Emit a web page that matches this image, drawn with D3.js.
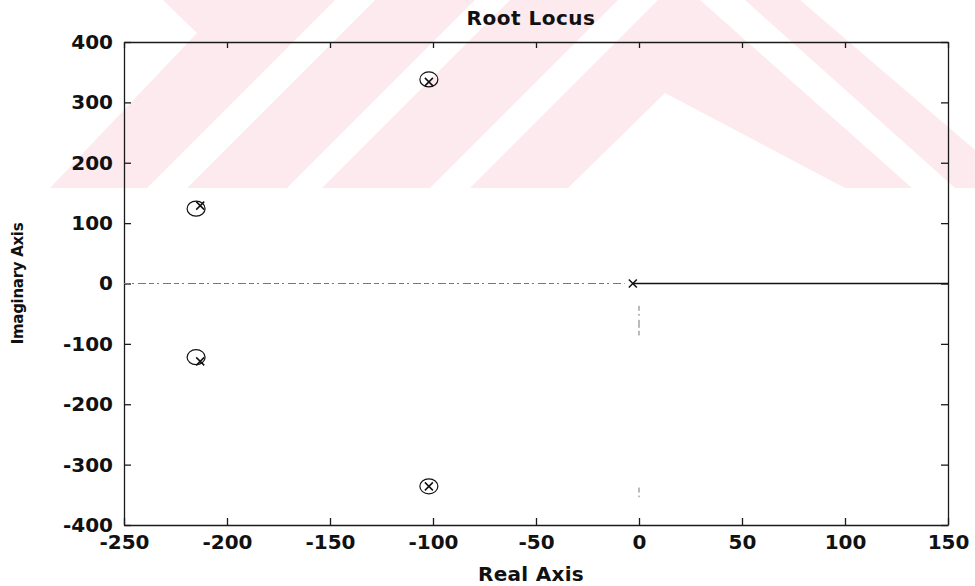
<!DOCTYPE html>
<html>
<head>
<meta charset="utf-8">
<script src="https://cdn.jsdelivr.net/npm/d3@7"></script>
<style>
  body { margin: 0; background: #fff; }
  svg { display: block; }
  text { font-family: "DejaVu Sans", Arial, sans-serif; font-weight: bold; fill: #111; }
</style>
</head>
<body>
<div id="chart"></div>
<script>
// axis setup
const xDomain = [-250, 150];
const yDomain = [-400, 400];
const xTicks = [-250, -200, -150, -100, -50, 0, 50, 100, 150];
const yTicks = [-400, -300, -200, -100, 0, 100, 200, 300, 400];

// open-loop poles (x) and zeros (o)
const polesRe = [-3, -213, -213, -102, -102];
const polesIm = [0, 129, -129, 334, -336];
const zerosRe = [-215, -215, -102, -102];
const zerosIm = [124, -122, 338, -336];

// locus branches
const branchSolid = [[-3, 0], [150, 0]];
const branchDotted = [
  [[-250, 0], [-7, 0]],
  [[0, -37], [0, -86]],
  [[0, -338], [0, -354]]
];

const width = 975, height = 586;
const margin = { top: 42, right: 27, bottom: 61, left: 124 };

const svg = d3.select('#chart')
  .append('svg')
    .attr('width', width)
    .attr('height', height);

// faint scanned-page watermark in the top band
const wm = svg.append('g').attr('class', 'watermark');
wm.append('rect').attr('x', 0).attr('y', 0).attr('width', width).attr('height', 188).attr('fill', '#fdeaee');
const whites = [
  [[0, 0], [163, 0], [197, 33], [50, 188], [0, 188]],
  [[147, 188], [187, 188], [375, 0], [335, 0]],
  [[287, 188], [322, 188], [510, 0], [475, 0]],
  [[430, 188], [470, 188], [658, 0], [618, 0]],
  [[665, 93], [845, 188], [568, 188]],
  [[700, 0], [745, 0], [955, 188], [912, 188]],
  [[800, 0], [975, 0], [975, 150]]
];
wm.selectAll('polygon')
  .data(whites)
  .join('polygon')
    .attr('points', d => d.map(p => p.join(',')).join(' '))
    .attr('fill', '#fff');

const x = d3.scaleLinear().domain(xDomain).range([margin.left, width - margin.right]);
const y = d3.scaleLinear().domain(yDomain).range([height - margin.bottom, margin.top]);

const fmt = d => String(d);

// axes (ticks inward, box on all sides)
svg.append('g')
  .attr('transform', `translate(0, ${y(-400)})`)
  .call(d3.axisBottom(x).tickValues(xTicks).tickFormat(fmt).tickSizeInner(-7).tickSizeOuter(0).tickPadding(10))
  .call(g => g.selectAll('text').style('font-size', '20px'));

svg.append('g')
  .attr('transform', `translate(${x(-250)}, 0)`)
  .call(d3.axisLeft(y).tickValues(yTicks).tickFormat(fmt).tickSizeInner(-7).tickSizeOuter(0).tickPadding(11))
  .call(g => g.selectAll('text').style('font-size', '20px'));

svg.append('g')
  .attr('transform', `translate(0, ${y(400)})`)
  .call(d3.axisTop(x).tickValues(xTicks).tickSizeInner(-6).tickSizeOuter(0).tickFormat(''));

svg.append('g')
  .attr('transform', `translate(${x(150)}, 0)`)
  .call(d3.axisRight(y).tickValues(yTicks).tickSizeInner(-7).tickSizeOuter(0).tickFormat(''));

svg.selectAll('.domain, .tick line')
  .attr('stroke', '#1a1a1a')
  .attr('stroke-width', 1.3);

// locus
const line = d3.line().x(d => x(d[0])).y(d => y(d[1]));

svg.append('path')
  .datum(branchSolid)
  .attr('d', line)
  .attr('fill', 'none')
  .attr('stroke', '#111')
  .attr('stroke-width', 1.4);

svg.selectAll('.dotted')
  .data(branchDotted)
  .join('path')
    .attr('class', 'dotted')
    .attr('d', line)
    .attr('fill', 'none')
    .attr('stroke', '#777')
    .attr('stroke-width', 1)
    .attr('stroke-dasharray', '5 3 2 4 8 3');

// zeros
svg.selectAll('.zero')
  .data(zerosRe.map((re, i) => ({ re, im: zerosIm[i] })))
  .join('ellipse')
    .attr('class', 'zero')
    .attr('cx', d => x(d.re))
    .attr('cy', d => y(d.im))
    .attr('rx', 9)
    .attr('ry', 7.5)
    .attr('fill', 'none')
    .attr('stroke', '#111')
    .attr('stroke-width', 1.2);

// poles
const s = 4;
svg.selectAll('.pole')
  .data(polesRe.map((re, i) => ({ re, im: polesIm[i] })))
  .join('path')
    .attr('class', 'pole')
    .attr('d', d => {
      const cx = x(d.re), cy = y(d.im);
      return `M${cx - s},${cy - s}L${cx + s},${cy + s}M${cx - s},${cy + s}L${cx + s},${cy - s}`;
    })
    .attr('stroke', '#111')
    .attr('stroke-width', 1.5);

// titles
svg.append('text')
  .attr('x', 531)
  .attr('y', 25)
  .attr('text-anchor', 'middle')
  .style('font-size', '20px')
  .style('letter-spacing', '0.5px')
  .text('Root Locus');

svg.append('text')
  .attr('x', 531)
  .attr('y', 581)
  .attr('text-anchor', 'middle')
  .style('font-size', '20px')
  .style('letter-spacing', '0.3px')
  .text('Real Axis');

svg.append('text')
  .attr('transform', `translate(23, ${(y(0))}) rotate(-90)`)
  .attr('text-anchor', 'middle')
  .style('font-size', '15px')
  .style('letter-spacing', '-0.3px')
  .text('Imaginary Axis');
</script>
</body>
</html>
